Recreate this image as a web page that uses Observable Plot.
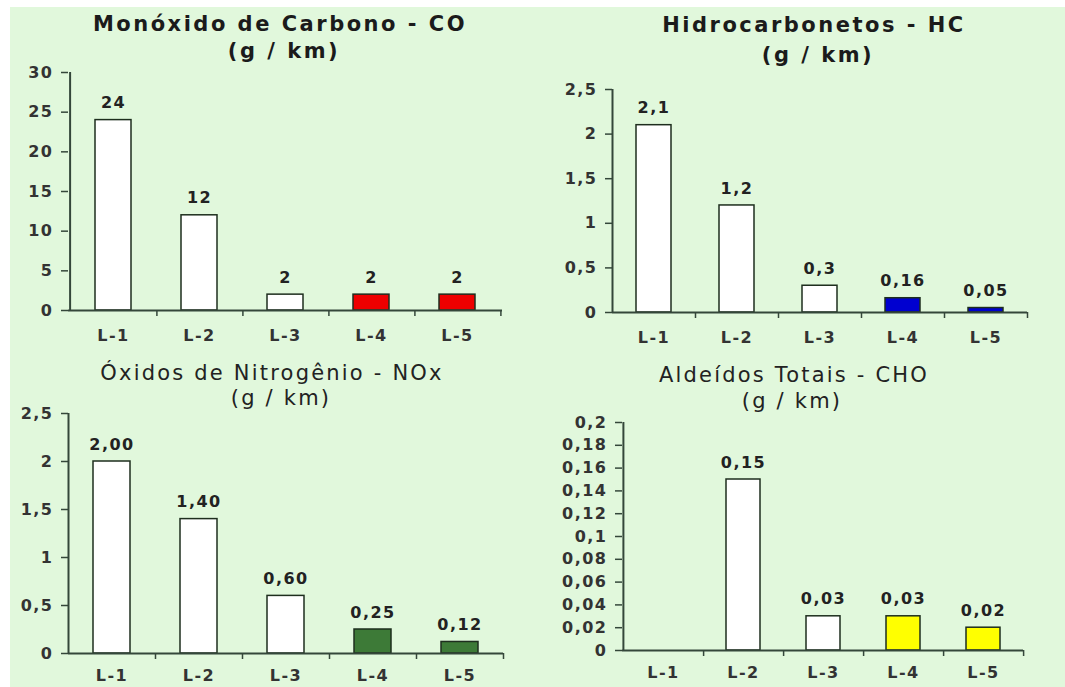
<!DOCTYPE html>
<html><head><meta charset="utf-8">
<script src="https://cdn.jsdelivr.net/npm/d3@7"></script>
<script src="https://cdn.jsdelivr.net/npm/@observablehq/plot@0.6"></script>
<style>
html,body{margin:0;padding:0;background:#fff;width:1065px;height:687px;overflow:hidden;position:relative;font-family:"DejaVu Sans",sans-serif;}
#bg{position:absolute;left:10px;top:7px;width:1055px;height:680px;background:#e1f8dc;}
.panel{position:absolute;}
.panel svg text{letter-spacing:1.5px;}
.title{position:absolute;transform:translate(-50%,-50%);white-space:nowrap;color:#1b1b1b;line-height:1;}
.t-bold{font-weight:bold;font-size:21px;letter-spacing:2.5px;}
.t-norm{font-weight:normal;font-size:21px;letter-spacing:2.2px;color:#222;}
</style></head><body><div id="bg"></div>
<script>
// ---- data ----
const categories = ["L-1", "L-2", "L-3", "L-4", "L-5"];

const coTitle = "Monóxido de Carbono - CO";
const coValues = [24, 12, 2, 2, 2];
const coLabels = ["24", "12", "2", "2", "2"];
const coFills = ["white", "white", "white", "#ee0000", "#ee0000"];
const coTicks = [0, 5, 10, 15, 20, 25, 30];

const hcTitle = "Hidrocarbonetos - HC";
const hcValues = [2.1, 1.2, 0.3, 0.16, 0.05];
const hcLabels = ["2,1", "1,2", "0,3", "0,16", "0,05"];
const hcFills = ["white", "white", "white", "#0000d0", "#0000d0"];
const hcTicks = [0, 0.5, 1, 1.5, 2, 2.5];

const noxTitle = "Óxidos de Nitrogênio - NOx";
const noxValues = [2.00, 1.40, 0.60, 0.25, 0.12];
const noxLabels = ["2,00", "1,40", "0,60", "0,25", "0,12"];
const noxFills = ["white", "white", "white", "#3d7a37", "#3d7a37"];
const noxTicks = [0, 0.5, 1, 1.5, 2, 2.5];

const choTitle = "Aldeídos Totais - CHO";
const choValues = [null, 0.15, 0.03, 0.03, 0.02];
const choLabels = ["", "0,15", "0,03", "0,03", "0,02"];
const choFills = ["white", "white", "white", "#ffff00", "#ffff00"];
const choTicks = [0, 0.02, 0.04, 0.06, 0.08, 0.1, 0.12, 0.14, 0.16, 0.18, 0.2];

const unitLabel = "(g / km)";

// ---- drawing ----
const axisColor = "#34473a";
const barStroke = "#1e2e1e";
const fmt = d => String(d).replace(".", ",");

function panel(cfg) {
  const {values, labels, fills, ticks, left, top, width, height, ml, mr, mt, mb, xPad} = cfg;
  const data = categories.map((c, i) => ({cat: c, value: values[i], label: labels[i], fill: fills[i]}));
  const bars = data.filter(d => d.value != null);
  const step = (width - ml - mr) / categories.length;
  const chart = Plot.plot({
    width, height, marginLeft: ml, marginRight: mr, marginTop: mt, marginBottom: mb,
    style: {background: "transparent", fontFamily: '"DejaVu Sans", sans-serif', fontSize: "16px", fontWeight: "bold", color: "#333"},
    x: {type: "band", domain: categories, paddingInner: 0.58, paddingOuter: 0.29, axis: null, label: null},
    y: {domain: [ticks[0], ticks[ticks.length - 1]], axis: null, label: null},
    color: {type: "identity"},
    marks: [
      Plot.axisY({ticks, tickFormat: fmt, tickSize: 7, tickPadding: 8, stroke: axisColor, strokeWidth: 1.5, fill: "#333", label: null}),
      Plot.axisX({tickSize: 0, tickPadding: xPad, fill: "#333", label: null}),
      Plot.barY(bars, {x: "cat", y: "value", fill: "fill", stroke: barStroke, strokeWidth: 1.5}),
      Plot.ruleX(categories, {x: d => d, dx: step / 2, y1: 0, y2: 0, insetBottom: -6, stroke: axisColor, strokeWidth: 1.5}),
      Plot.ruleX([categories[0]], {x: d => d, dx: -step / 2, stroke: axisColor, strokeWidth: 2}),
      Plot.ruleY([0], {stroke: axisColor, strokeWidth: 2}),
      Plot.text(bars, {x: "cat", y: "value", text: "label", dy: -17, fill: "#222"})
    ]
  });
  const div = document.createElement("div");
  div.className = "panel";
  div.style.left = left + "px";
  div.style.top = top + "px";
  div.appendChild(chart);
  document.body.appendChild(div);
}

function title(text, cls, x, y) {
  const d = document.createElement("div");
  d.className = "title " + cls;
  d.textContent = text;
  d.style.left = x + "px";
  d.style.top = y + "px";
  document.body.appendChild(d);
}

panel({values: coValues, labels: coLabels, fills: coFills, ticks: coTicks,
  left: 0, top: 60, width: 530, height: 300, ml: 68, mr: 28, mt: 12, mb: 50, xPad: 19});
panel({values: hcValues, labels: hcLabels, fills: hcFills, ticks: hcTicks,
  left: 540, top: 60, width: 500, height: 300, ml: 72, mr: 13, mt: 29, mb: 48, xPad: 19});
panel({values: noxValues, labels: noxLabels, fills: noxFills, ticks: noxTicks,
  left: 0, top: 400, width: 530, height: 287, ml: 68, mr: 27, mt: 13, mb: 34, xPad: 16});
panel({values: choValues, labels: choLabels, fills: choFills, ticks: choTicks,
  left: 540, top: 400, width: 500, height: 287, ml: 82, mr: 17, mt: 22, mb: 37, xPad: 16});

title(coTitle, "t-bold", 280, 24);
title(unitLabel, "t-bold", 284, 51);
title(hcTitle, "t-bold", 814, 25);
title(unitLabel, "t-bold", 818, 55);
title(noxTitle, "t-norm", 272, 373);
title(unitLabel, "t-norm", 281, 398);
title(choTitle, "t-norm", 794, 375);
title(unitLabel, "t-norm", 792, 401);
</script>
</body></html>
